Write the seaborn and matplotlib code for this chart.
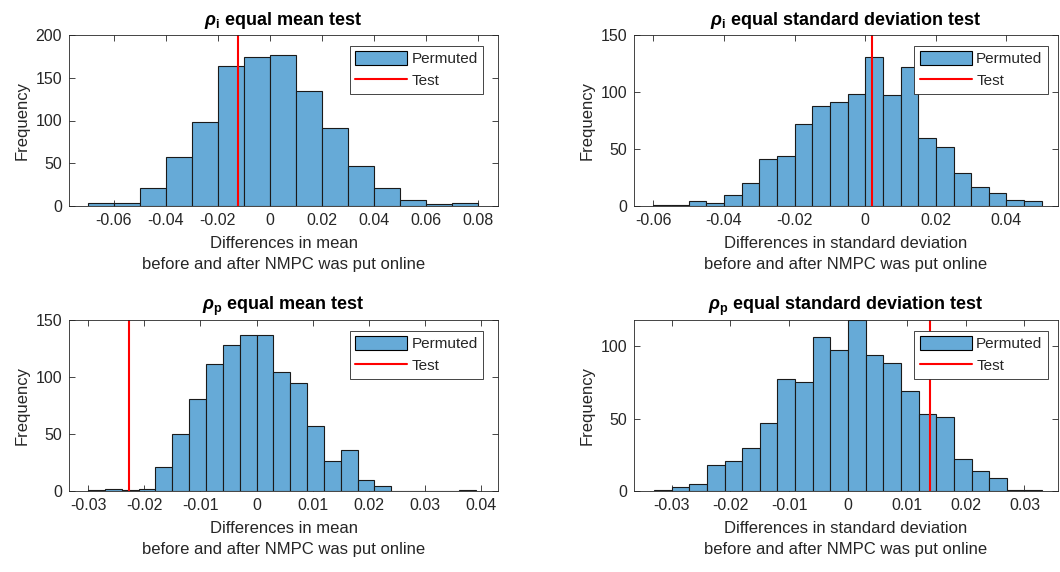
import numpy as np
import pandas as pd
import matplotlib
matplotlib.use('Agg')
import matplotlib.pyplot as plt
import seaborn as sns
from matplotlib.patches import Patch
from matplotlib.lines import Line2D
from matplotlib.ticker import FormatStrFormatter

# panel data: bin start, bin width, counts per bin, test statistic
titles = [r'$\rho_\mathbf{i}$ equal mean test',
          r'$\rho_\mathbf{i}$ equal standard deviation test',
          r'$\rho_\mathbf{p}$ equal mean test',
          r'$\rho_\mathbf{p}$ equal standard deviation test']
xlabels = ['Differences in mean\nbefore and after NMPC was put online',
           'Differences in standard deviation\nbefore and after NMPC was put online',
           'Differences in mean\nbefore and after NMPC was put online',
           'Differences in standard deviation\nbefore and after NMPC was put online']

start_i_mean, width_i_mean = -0.07, 0.01
counts_i_mean = [3, 4, 21, 57, 98, 164, 174, 177, 134, 91, 47, 21, 7, 2, 3]
test_i_mean = -0.0122

start_i_std, width_i_std = -0.06, 0.005
counts_i_std = [1, 1, 4, 3, 10, 20, 41, 44, 72, 88, 91, 98, 131, 97, 122,
                60, 52, 29, 17, 11, 5, 4]
test_i_std = 0.0020

start_p_mean, width_p_mean = -0.03, 0.003
counts_p_mean = [1, 2, 1, 2, 21, 50, 81, 111, 128, 137, 137, 104, 95, 57,
                 26, 36, 10, 4, 0, 0, 0, 0, 1]
test_p_mean = -0.0227

start_p_std, width_p_std = -0.033, 0.003
counts_p_std = [1, 3, 5, 18, 21, 30, 47, 77, 75, 106, 97, 118, 94, 88, 69,
                53, 51, 22, 14, 9, 1, 1]
test_p_std = 0.0139

xlims = [(-0.0772, 0.0878), (-0.0655, 0.0546), (-0.0334, 0.0430), (-0.0364, 0.0357)]
ylims = [(0, 200), (0, 150), (0, 150), (0, 118)]
xticks = [[-0.06, -0.04, -0.02, 0, 0.02, 0.04, 0.06, 0.08],
          [-0.06, -0.04, -0.02, 0, 0.02, 0.04],
          [-0.03, -0.02, -0.01, 0, 0.01, 0.02, 0.03, 0.04],
          [-0.03, -0.02, -0.01, 0, 0.01, 0.02, 0.03]]
yticks = [[0, 50, 100, 150, 200], [0, 50, 100, 150], [0, 50, 100, 150], [0, 50, 100]]

panels = [(start_i_mean, width_i_mean, counts_i_mean, test_i_mean),
          (start_i_std, width_i_std, counts_i_std, test_i_std),
          (start_p_mean, width_p_mean, counts_p_mean, test_p_mean),
          (start_p_std, width_p_std, counts_p_std, test_p_std)]

sns.set_style('ticks')
plt.rcParams['font.family'] = ['Liberation Sans', 'DejaVu Sans']
plt.rcParams['mathtext.fontset'] = 'custom'
plt.rcParams['mathtext.rm'] = 'Liberation Sans:bold'
plt.rcParams['mathtext.it'] = 'Liberation Sans:italic:bold'
plt.rcParams['mathtext.bf'] = 'Liberation Sans:bold'
plt.rcParams['axes.unicode_minus'] = False

bar_color = '#66AAD7'
txt = '#262626'

fig = plt.figure(figsize=(10.6, 5.72), dpi=100)
W, H = 1060, 572
boxes = [(69, 35, 498, 206), (634, 35, 1058, 206),
         (69, 320, 498, 491), (634, 320, 1058, 491)]
leg_anchor = [(0.965, 0.936), (0.976, 0.936), (0.965, 0.936), (0.976, 0.936)]

for k, (x0, y0, x1, y1) in enumerate(boxes):
    ax = fig.add_axes([x0 / W, 1 - y1 / H, (x1 - x0) / W, (y1 - y0) / H])
    start, w, counts, test = panels[k]
    edges = start + w * np.arange(len(counts) + 1)
    df = pd.DataFrame({'center': edges[:-1] + w / 2, 'count': counts})
    sns.histplot(data=df, x='center', weights='count', bins=list(edges), ax=ax,
                 color=bar_color, alpha=1, edgecolor='#1a1a1a', linewidth=0.8)
    ax.axvline(test, color='red', lw=1.5)
    ax.set_xlim(*xlims[k])
    ax.set_ylim(*ylims[k])
    ax.set_xticks(xticks[k])
    ax.set_yticks(yticks[k])
    ax.xaxis.set_major_formatter(FormatStrFormatter('%g'))
    ax.tick_params(direction='in', length=4, width=0.6, top=True, right=True,
                   labelsize=11.5, colors=txt, pad=5)
    for s in ax.spines.values():
        s.set_visible(True)
        s.set_linewidth(0.6)
        s.set_color(txt)
    ax.set_ylabel('Frequency', fontsize=12, color=txt)
    ax.set_xlabel(xlabels[k], fontsize=12, color=txt, linespacing=1.5, labelpad=6)
    ax.set_title(titles[k], fontsize=13, fontweight='bold', pad=7, color='black')
    handles = [Patch(facecolor=bar_color, edgecolor='black', linewidth=0.8),
               Line2D([0], [0], color='red', lw=1.5)]
    leg = ax.legend(handles, ['Permuted', 'Test'], loc='upper right',
                    bbox_to_anchor=leg_anchor[k], borderaxespad=0, fontsize=11,
                    fancybox=False, framealpha=1, edgecolor=txt,
                    handlelength=3.4, handleheight=1.0, borderpad=0.35,
                    labelspacing=0.45, handletextpad=0.3)
    leg.get_frame().set_linewidth(0.6)

fig.savefig('out.png', dpi=100)
